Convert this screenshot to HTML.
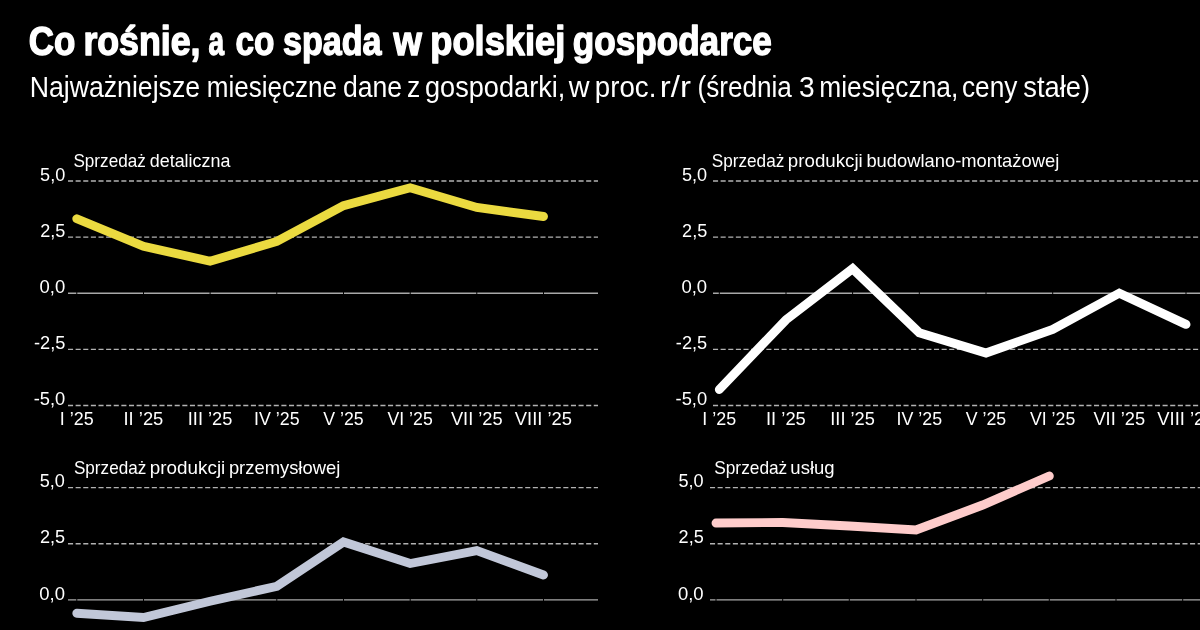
<!DOCTYPE html>
<html lang="pl">
<head>
<meta charset="utf-8">
<title>Co rośnie, a co spada w polskiej gospodarce</title>
<style>
html,body{margin:0;padding:0;background:#000;}
body{width:1200px;height:630px;overflow:hidden;}
svg{display:block;}
text{font-family:"Liberation Sans",sans-serif;fill:#fff;}
.t{font-weight:bold;font-size:40.5px;stroke:#fff;stroke-width:1.4px;stroke-linejoin:round;}
.s{font-size:29px;}
.l{font-size:18.2px;}
.g{stroke:#b2b2b2;stroke-width:1.3;stroke-dasharray:5.08 2.54;fill:none;}
.z{stroke:#a8a8a8;stroke-width:1.3;fill:none;}
.v{stroke:#000;stroke-width:1;fill:none;}
.d{fill:none;stroke-width:8.9;stroke-linecap:round;stroke-linejoin:miter;}
</style>
</head>
<body>
<svg width="1200" height="630" viewBox="0 0 1200 630">
<rect width="1200" height="630" fill="#000"/>
<text class="t" y="55.4"><tspan x="28.80" textLength="46.55" lengthAdjust="spacingAndGlyphs">Co</tspan> <tspan x="83.38" textLength="117.17" lengthAdjust="spacingAndGlyphs">rośnie,</tspan> <tspan x="208.50" textLength="15.55" lengthAdjust="spacingAndGlyphs">a</tspan> <tspan x="235.53" textLength="38.97" lengthAdjust="spacingAndGlyphs">co</tspan> <tspan x="283.01" textLength="98.49" lengthAdjust="spacingAndGlyphs">spada</tspan> <tspan x="393.38" textLength="28.34" lengthAdjust="spacingAndGlyphs">w</tspan> <tspan x="430.34" textLength="134.91" lengthAdjust="spacingAndGlyphs">polskiej</tspan> <tspan x="572.79" textLength="199.10" lengthAdjust="spacingAndGlyphs">gospodarce</tspan></text>
<text class="s" y="96.7"><tspan x="29.67" textLength="170.43" lengthAdjust="spacingAndGlyphs">Najważniejsze</tspan> <tspan x="206.81" textLength="130.26" lengthAdjust="spacingAndGlyphs">miesięczne</tspan> <tspan x="342.94" textLength="59.16" lengthAdjust="spacingAndGlyphs">dane</tspan> <tspan x="406.94" textLength="13.25" lengthAdjust="spacingAndGlyphs">z</tspan> <tspan x="424.91" textLength="140.47" lengthAdjust="spacingAndGlyphs">gospodarki,</tspan> <tspan x="568.64" textLength="20.77" lengthAdjust="spacingAndGlyphs">w</tspan> <tspan x="594.84" textLength="61.60" lengthAdjust="spacingAndGlyphs">proc.</tspan> <tspan x="659.86" textLength="31.07" lengthAdjust="spacingAndGlyphs">r/r</tspan> <tspan x="697.43" textLength="94.47" lengthAdjust="spacingAndGlyphs">(średnia</tspan> <tspan x="799.02" textLength="15.64" lengthAdjust="spacingAndGlyphs">3</tspan> <tspan x="819.29" textLength="139.02" lengthAdjust="spacingAndGlyphs">miesięczna,</tspan> <tspan x="961.95" textLength="55.55" lengthAdjust="spacingAndGlyphs">ceny</tspan> <tspan x="1023.32" textLength="66.77" lengthAdjust="spacingAndGlyphs">stałe)</tspan></text>
<g>
<line class="g" x1="68" y1="181.0" x2="598" y2="181.0"/>
<text class="l" x="40.08" y="180.7" textLength="25.18" lengthAdjust="spacingAndGlyphs">5,0</text>
<line class="g" x1="68" y1="237.12" x2="598" y2="237.12"/>
<text class="l" x="40.20" y="236.82" textLength="25.15" lengthAdjust="spacingAndGlyphs">2,5</text>
<line class="z" x1="68" y1="293.25" x2="598" y2="293.25"/>
<text class="l" x="39.55" y="292.95" textLength="25.72" lengthAdjust="spacingAndGlyphs">0,0</text>
<line class="g" x1="68" y1="349.38" x2="598" y2="349.38"/>
<text class="l" x="33.97" y="349.08" textLength="31.38" lengthAdjust="spacingAndGlyphs">-2,5</text>
<line class="g" x1="68" y1="405.5" x2="598" y2="405.5"/>
<text class="l" x="33.67" y="405.2" textLength="31.60" lengthAdjust="spacingAndGlyphs">-5,0</text>
<line class="v" x1="76.8" y1="291.25" x2="76.8" y2="295.25"/>
<line class="v" x1="143.5" y1="291.25" x2="143.5" y2="295.25"/>
<line class="v" x1="210.1" y1="291.25" x2="210.1" y2="295.25"/>
<line class="v" x1="276.8" y1="291.25" x2="276.8" y2="295.25"/>
<line class="v" x1="343.5" y1="291.25" x2="343.5" y2="295.25"/>
<line class="v" x1="410.2" y1="291.25" x2="410.2" y2="295.25"/>
<line class="v" x1="476.8" y1="291.25" x2="476.8" y2="295.25"/>
<line class="v" x1="543.5" y1="291.25" x2="543.5" y2="295.25"/>
<text class="l" y="166.6"><tspan x="73.43" textLength="72.34" lengthAdjust="spacingAndGlyphs">Sprzedaż</tspan> <tspan x="149.78" textLength="80.65" lengthAdjust="spacingAndGlyphs">detaliczna</tspan></text>
<text class="l" x="59.84" y="424.9" textLength="33.85" lengthAdjust="spacingAndGlyphs">I ’25</text>
<text class="l" x="123.52" y="424.9" textLength="39.81" lengthAdjust="spacingAndGlyphs">II ’25</text>
<text class="l" x="187.80" y="424.9" textLength="44.59" lengthAdjust="spacingAndGlyphs">III ’25</text>
<text class="l" x="254.01" y="424.9" textLength="45.54" lengthAdjust="spacingAndGlyphs">IV ’25</text>
<text class="l" x="323.23" y="424.9" textLength="40.43" lengthAdjust="spacingAndGlyphs">V ’25</text>
<text class="l" x="387.50" y="424.9" textLength="45.23" lengthAdjust="spacingAndGlyphs">VI ’25</text>
<text class="l" x="450.92" y="424.9" textLength="51.75" lengthAdjust="spacingAndGlyphs">VII ’25</text>
<text class="l" x="514.84" y="424.9" textLength="57.26" lengthAdjust="spacingAndGlyphs">VIII ’25</text>
<path class="d" stroke="#ebda40" d="M76.8 218.75 L143.5 246.25 L210.1 261.25 L276.8 241.4 L343.5 205.6 L410.2 187.75 L476.8 207.5 L543.5 216.5"/>
</g>
<g>
<line class="g" x1="713" y1="181.0" x2="1200" y2="181.0"/>
<text class="l" x="681.98" y="180.7" textLength="25.18" lengthAdjust="spacingAndGlyphs">5,0</text>
<line class="g" x1="713" y1="237.12" x2="1200" y2="237.12"/>
<text class="l" x="682.10" y="236.82" textLength="25.15" lengthAdjust="spacingAndGlyphs">2,5</text>
<line class="z" x1="713" y1="293.25" x2="1200" y2="293.25"/>
<text class="l" x="681.45" y="292.95" textLength="25.72" lengthAdjust="spacingAndGlyphs">0,0</text>
<line class="g" x1="713" y1="349.38" x2="1200" y2="349.38"/>
<text class="l" x="675.87" y="349.08" textLength="31.38" lengthAdjust="spacingAndGlyphs">-2,5</text>
<line class="g" x1="713" y1="405.5" x2="1200" y2="405.5"/>
<text class="l" x="675.57" y="405.2" textLength="31.60" lengthAdjust="spacingAndGlyphs">-5,0</text>
<line class="v" x1="719.3" y1="291.25" x2="719.3" y2="295.25"/>
<line class="v" x1="786.0" y1="291.25" x2="786.0" y2="295.25"/>
<line class="v" x1="852.6" y1="291.25" x2="852.6" y2="295.25"/>
<line class="v" x1="919.3" y1="291.25" x2="919.3" y2="295.25"/>
<line class="v" x1="986.0" y1="291.25" x2="986.0" y2="295.25"/>
<line class="v" x1="1052.7" y1="291.25" x2="1052.7" y2="295.25"/>
<line class="v" x1="1119.3" y1="291.25" x2="1119.3" y2="295.25"/>
<line class="v" x1="1186.0" y1="291.25" x2="1186.0" y2="295.25"/>
<text class="l" y="166.6"><tspan x="711.73" textLength="72.55" lengthAdjust="spacingAndGlyphs">Sprzedaż</tspan> <tspan x="787.88" textLength="74.88" lengthAdjust="spacingAndGlyphs">produkcji</tspan> <tspan x="866.40" textLength="192.83" lengthAdjust="spacingAndGlyphs">budowlano-montażowej</tspan></text>
<text class="l" x="702.34" y="424.9" textLength="33.85" lengthAdjust="spacingAndGlyphs">I ’25</text>
<text class="l" x="766.02" y="424.9" textLength="39.81" lengthAdjust="spacingAndGlyphs">II ’25</text>
<text class="l" x="830.30" y="424.9" textLength="44.59" lengthAdjust="spacingAndGlyphs">III ’25</text>
<text class="l" x="896.51" y="424.9" textLength="45.54" lengthAdjust="spacingAndGlyphs">IV ’25</text>
<text class="l" x="965.73" y="424.9" textLength="40.43" lengthAdjust="spacingAndGlyphs">V ’25</text>
<text class="l" x="1030.00" y="424.9" textLength="45.23" lengthAdjust="spacingAndGlyphs">VI ’25</text>
<text class="l" x="1093.42" y="424.9" textLength="51.75" lengthAdjust="spacingAndGlyphs">VII ’25</text>
<text class="l" x="1157.34" y="424.9" textLength="57.26" lengthAdjust="spacingAndGlyphs">VIII ’25</text>
<path class="d" stroke="#ffffff" d="M719.3 389.5 L786.0 319.8 L852.6 268.7 L919.3 332.8 L986.0 353 L1052.7 329.4 L1119.3 293.2 L1186.0 324.4"/>
</g>
<g>
<line class="g" x1="68" y1="487.6" x2="598" y2="487.6"/>
<text class="l" x="39.78" y="487.3" textLength="25.18" lengthAdjust="spacingAndGlyphs">5,0</text>
<line class="g" x1="68" y1="543.73" x2="598" y2="543.73"/>
<text class="l" x="39.90" y="543.43" textLength="25.15" lengthAdjust="spacingAndGlyphs">2,5</text>
<line class="z" x1="68" y1="599.85" x2="598" y2="599.85"/>
<text class="l" x="39.25" y="599.55" textLength="25.72" lengthAdjust="spacingAndGlyphs">0,0</text>
<line class="v" x1="76.8" y1="597.85" x2="76.8" y2="601.85"/>
<line class="v" x1="143.5" y1="597.85" x2="143.5" y2="601.85"/>
<line class="v" x1="210.1" y1="597.85" x2="210.1" y2="601.85"/>
<line class="v" x1="276.8" y1="597.85" x2="276.8" y2="601.85"/>
<line class="v" x1="343.5" y1="597.85" x2="343.5" y2="601.85"/>
<line class="v" x1="410.2" y1="597.85" x2="410.2" y2="601.85"/>
<line class="v" x1="476.8" y1="597.85" x2="476.8" y2="601.85"/>
<line class="v" x1="543.5" y1="597.85" x2="543.5" y2="601.85"/>
<text class="l" y="473.6"><tspan x="73.93" textLength="72.34" lengthAdjust="spacingAndGlyphs">Sprzedaż</tspan> <tspan x="149.87" textLength="75.40" lengthAdjust="spacingAndGlyphs">produkcji</tspan> <tspan x="228.90" textLength="111.34" lengthAdjust="spacingAndGlyphs">przemysłowej</tspan></text>
<path class="d" stroke="#c1c7d8" d="M76.8 613.25 L143.5 617.5 L210.1 601.2 L276.8 586.3 L343.5 542 L410.2 563.5 L476.8 550.6 L543.5 575"/>
</g>
<g>
<line class="g" x1="710" y1="487.6" x2="1200" y2="487.6"/>
<text class="l" x="678.48" y="487.3" textLength="25.18" lengthAdjust="spacingAndGlyphs">5,0</text>
<line class="g" x1="710" y1="543.73" x2="1200" y2="543.73"/>
<text class="l" x="678.60" y="543.43" textLength="25.15" lengthAdjust="spacingAndGlyphs">2,5</text>
<line class="z" x1="710" y1="599.85" x2="1200" y2="599.85"/>
<text class="l" x="677.95" y="599.55" textLength="25.72" lengthAdjust="spacingAndGlyphs">0,0</text>
<line class="v" x1="716.0" y1="597.85" x2="716.0" y2="601.85"/>
<line class="v" x1="782.7" y1="597.85" x2="782.7" y2="601.85"/>
<line class="v" x1="849.3" y1="597.85" x2="849.3" y2="601.85"/>
<line class="v" x1="916.0" y1="597.85" x2="916.0" y2="601.85"/>
<line class="v" x1="982.7" y1="597.85" x2="982.7" y2="601.85"/>
<line class="v" x1="1049.3" y1="597.85" x2="1049.3" y2="601.85"/>
<line class="v" x1="1116.0" y1="597.85" x2="1116.0" y2="601.85"/>
<line class="v" x1="1182.7" y1="597.85" x2="1182.7" y2="601.85"/>
<text class="l" y="473.6"><tspan x="714.22" textLength="73.06" lengthAdjust="spacingAndGlyphs">Sprzedaż</tspan> <tspan x="790.39" textLength="44.24" lengthAdjust="spacingAndGlyphs">usług</tspan></text>
<path class="d" stroke="#fecccb" d="M716.0 523 L782.7 522.5 L849.3 526 L916.0 530 L982.7 505 L1049.3 476"/>
</g>
</svg>
</body>
</html>
